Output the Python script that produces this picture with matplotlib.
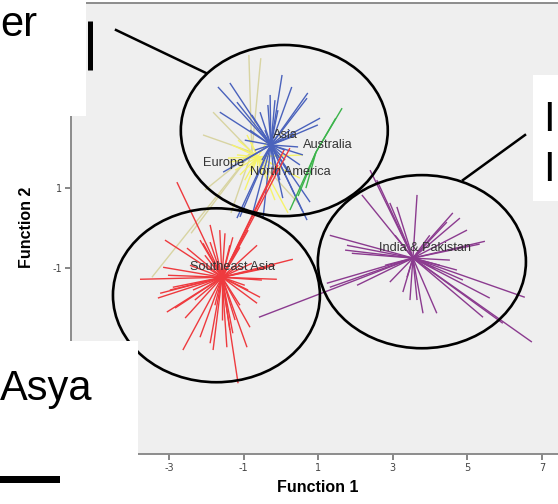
import matplotlib.pyplot as plt
from matplotlib.collections import LineCollection
from matplotlib.patches import Ellipse, Rectangle

W, H = 558, 504

# group centroids on the two discriminant functions
groups = ["Asia", "Australia", "Europe", "India & Pakistan", "North America", "Southeast Asia"]
colors = ["#4a62bc", "#3cb44b", "#d8d4a2", "#8b3b8f", "#f6f36c", "#ee3a3e"]
centroid_f1 = [-0.27, 0.94, -0.78, 3.54, -0.62, -1.58]
centroid_f2 = [2.08, 1.90, 1.90, -0.75, 1.78, -1.23]

# where the group names are printed
label_f1 = [0.11, 1.26, -1.55, 3.86, 0.24, -1.31]
label_f2 = [2.33, 2.08, 1.63, -0.50, 1.40, -0.98]

# case scores (Function 1, Function 2) per group
asia_f1 = [0.03, -0.29, -0.16, 0.29, 0.72, 0.70, 1.05, 0.99, -1.69, -1.37, -1.18, -1.64,
           -0.78, -0.56, -1.55, -1.05, 0.59, 0.46, -0.75, -1.18, -0.48, 0.05, 0.59, 0.78,
           0.24, -0.03, -1.10, 0.70, -0.97, -0.83, 0.24, 0.11, -0.51, 0.51, -0.35, -0.08,
           -0.70, 0.11, -0.43, 0.35, -0.20]
asia_f2 = [3.83, 3.33, 3.20, 3.53, 3.38, 3.25, 2.75, 2.58, 3.53, 3.63, 3.15, 2.90,
           2.83, 2.90, 1.40, 1.65, 1.83, 2.03, 0.40, 0.25, 0.25, 0.75, 0.40, 0.65,
           1.33, 1.20, 0.28, 0.20, 2.20, 2.45, 2.45, 1.70, 1.70, 1.58, 3.08, 2.95,
           1.95, 1.95, 2.45, 2.30, 1.45]

australia_f1 = [1.64, 1.47, 0.24, 0.46, 0.67]
australia_f2 = [3.00, 2.75, 0.45, 0.80, 1.00]

europe_f1 = [-0.86, -0.54, -3.46, -2.41, -1.82, -2.09, -1.34, 0.51, -2.04]
europe_f2 = [4.33, 4.25, -1.23, -0.13, 2.90, 2.33, 0.38, 0.58, 0.95]

india_f1 = [2.39, 2.57, 2.17, 2.92, 3.11, 3.65, 4.61, 4.80, 4.99, 5.47, 5.33, 4.45,
            1.31, 1.77, 1.72, 1.90, -0.59, 1.31, 2.04, 1.23, 2.92, 3.27, 3.81, 4.18,
            3.65, 5.42, 6.73, 5.95, 6.54, 5.60, 4.88, 4.53, 4.72, 4.26, 3.38, 4.13,
            3.46, 3.06, 3.99, 2.79]
india_f2 = [1.45, 1.20, 0.83, 0.63, 0.53, 0.83, 0.38, 0.25, -0.05, -0.33, -0.40, 0.15,
            -0.18, -0.43, -0.55, -0.63, -2.23, -1.48, -1.43, -1.38, -1.35, -1.60, -2.13, -2.13,
            -1.80, -2.23, -2.85, -2.38, -1.73, -1.75, -1.30, -0.80, -1.05, -0.93, -1.23, -1.00,
            -1.80, -0.18, -0.18, -0.93]

namerica_f1 = [-1.10, -0.83, -0.91, -0.29, 0.16, 0.19, -0.64, -1.18, -1.37, 0.59,
               -0.97, -0.35, -1.31, -0.16, 0.51, -1.23, -1.10, -1.42, -0.97, -0.51,
               -0.83, -1.15, -0.16]
namerica_f2 = [2.00, 1.50, 2.33, 1.50, 1.83, 0.38, 1.25, 1.83, 1.65, 1.83,
               0.95, 2.20, 2.08, 0.70, 1.25, 1.45, 1.33, 1.75, 1.20, 1.33,
               2.20, 2.20, 1.58]

seasia_f1 = [-3.78, -0.11, -3.11, -2.79, -1.64, -1.90, -2.17, -2.52, -0.88, -0.64,
             0.32, -0.38, -0.16, -3.30, -3.24, -3.06, -2.84, -2.57, -2.63, -2.17,
             -1.90, -1.82, -1.45, -1.15, -1.29, -0.91, -0.83, -0.64, -0.56, -0.88,
             -0.78, 0.08, -0.08, 0.24, -2.98, -2.90, -2.36, -3.16, -3.03, -1.10,
             -1.29, -2.09, -1.37, -1.50, -1.77, -1.58, -1.37, -1.10, -0.51, -2.44,
             -2.04, -1.10, -2.31, -1.23, -1.90, -0.97]
seasia_f2 = [-1.28, -1.28, -0.30, 1.15, -0.05, -0.35, -0.30, -0.50, -0.05, -0.43,
             -0.78, -1.00, -0.93, -1.75, -1.63, -2.10, -2.00, -2.25, -3.05, -2.73,
             -2.88, -3.05, -2.98, -3.88, -2.63, -2.98, -2.48, -1.88, -1.73, -1.55,
             -0.88, 1.95, 1.58, 2.00, -1.55, -1.48, -1.55, -0.98, -1.18, -0.48,
             -0.23, -0.38, -0.43, -0.13, -1.93, -2.30, -2.55, -1.93, -1.30, -0.93,
             -0.68, -0.93, -1.80, -2.30, 0.08, -1.43]

scores = {
    "Asia": (asia_f1, asia_f2),
    "Australia": (australia_f1, australia_f2),
    "Europe": (europe_f1, europe_f2),
    "India & Pakistan": (india_f1, india_f2),
    "North America": (namerica_f1, namerica_f2),
    "Southeast Asia": (seasia_f1, seasia_f2),
}
draw_order = ["Europe", "North America", "Asia", "Australia", "India & Pakistan", "Southeast Asia"]

# hand-drawn rings around the three clusters: centre, width, height
ring_f1 = [0.09, -1.73, 3.78]
ring_f2 = [2.44, -1.68, -0.84]
ring_w = [5.55, 5.55, 5.58]
ring_h = [4.28, 4.35, 4.33]

fig = plt.figure(figsize=(W / 100, H / 100), dpi=100)
ax = fig.add_axes([71 / W, 50 / H, (W - 71) / W, 451 / H])
ax.set_facecolor("#efefef")
ax.set_xlim(-5.63, 7.43)
ax.set_ylim(-5.65, 5.63)

for g in draw_order:
    i = groups.index(g)
    cx, cy = centroid_f1[i], centroid_f2[i]
    f1, f2 = scores[g]
    segs = [[(cx, cy), (x, y)] for x, y in zip(f1, f2)]
    ax.add_collection(LineCollection(segs, colors=colors[i], linewidths=1.0))

for i, g in enumerate(groups):
    ax.text(label_f1[i], label_f2[i], g, fontsize=9.2, family="Liberation Sans",
            color="#333333", ha="center", va="center", zorder=4)

for cx, cy, w, h in zip(ring_f1, ring_f2, ring_w, ring_h):
    ax.add_patch(Ellipse((cx, cy), w, h, fill=False, ec="black", lw=1.9, zorder=5))

ax.set_xticks([-3, -1, 1, 3, 5, 7])
ax.set_yticks([-5, -3, -1, 1, 3, 5])
ax.set_xticklabels(["-3", "-1", "1", "3", "5", "7"])
ax.set_yticklabels(["-5", "-3", "-1", "1", "3", "5"])
ax.tick_params(direction="out", length=4.5, width=1.1, color="#666666",
               labelsize=7, labelcolor="#444444", pad=2)
for side in ["left", "bottom", "top"]:
    ax.spines[side].set_color("#8c8c8c")
    ax.spines[side].set_linewidth(1.4)
ax.spines["right"].set_visible(False)

ax.set_xlabel("Function 1", fontsize=11.5, fontweight="bold", family="Liberation Sans")
ax.xaxis.set_label_coords((318 - 71) / (W - 71), -33 / 451)
ax.xaxis.label.set_va("center")
ax.set_ylabel("Function 2", fontsize=11.5, fontweight="bold", family="Liberation Sans")
ax.yaxis.set_label_coords((27 - 71) / (W - 71), (454 - 227) / 451)
ax.yaxis.label.set_va("center")

# slide layer on top: text boxes, rules and pointer lines
ov = fig.add_axes([0, 0, 1, 1], zorder=5)
ov.set_xlim(0, W)
ov.set_ylim(H, 0)
ov.axis("off")
ov.patch.set_alpha(0)

slide_font = "Liberation Sans"
ov.add_patch(Rectangle((0, 0), 86, 116, color="white", lw=0))
ov.add_patch(Rectangle((0, 341), 138, 117, color="white", lw=0))
ov.add_patch(Rectangle((533, 75), 30, 126, color="white", lw=0))

ov.text(0, 36, "er", fontsize=30, family=slide_font, va="baseline", ha="left")
ov.text(0, 400, "Asya", fontsize=30, family=slide_font, va="baseline", ha="left")
ov.text(543, 131, "I", fontsize=30, family=slide_font, va="baseline", ha="left")
ov.text(543, 181, "I", fontsize=30, family=slide_font, va="baseline", ha="left")

ov.plot([89.5, 89.5], [21, 70], color="black", lw=3.6, solid_capstyle="butt")
ov.add_patch(Rectangle((0, 476), 60, 7, color="black", lw=0))
ov.plot([116, 206], [30, 73], color="black", lw=1.8)
ov.plot([525, 463], [135, 180], color="black", lw=1.8)

fig.savefig("out.png", dpi=100)
